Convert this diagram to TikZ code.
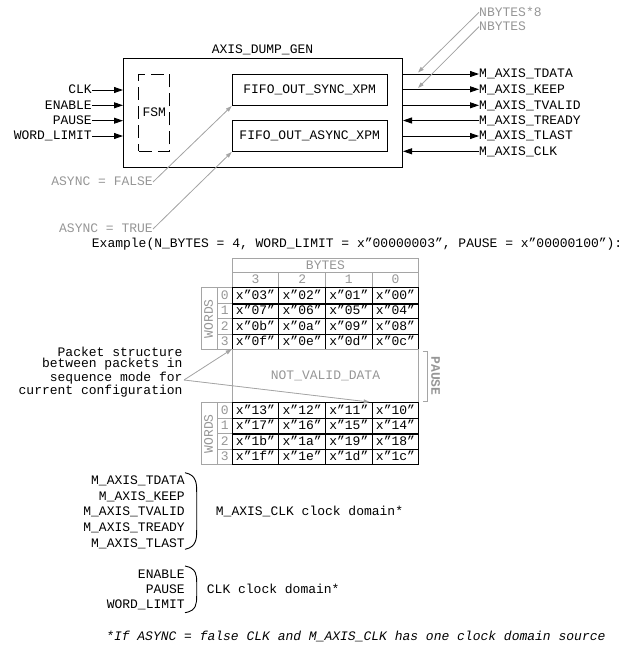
\documentclass[tikz,border=0pt]{standalone}
\usepackage{fontspec}
\setmainfont{Liberation Mono}
\setmonofont{Liberation Mono}
\usetikzlibrary{arrows.meta}
\definecolor{gtxt}{RGB}{150,150,150}
\definecolor{gline}{RGB}{165,165,165}
\begin{document}
\begin{tikzpicture}[x=1pt,y=-1pt,
  lbl/.style={font=\fontsize{13}{15}\selectfont, inner sep=0pt, text height=7.4pt, text depth=0pt},
  glbl/.style={lbl, text=gtxt},
  arr/.style={-{Triangle[length=9pt,width=6pt]}, line width=0.9pt},
  garr/.style={-{Triangle[length=6pt,width=4pt]}, draw=gline, fill=gline, line width=0.8pt},
  blk/.style={draw, line width=1pt, inner sep=0pt, lbl},
  cell/.style={draw, line width=0.9pt, lbl, minimum width=46.67pt, minimum height=15.5pt, anchor=north west},
  gcell/.style={draw=gline, line width=0.9pt, glbl, minimum width=46.67pt, minimum height=15.5pt, anchor=north west},
  brk/.style={line width=0.9pt}
]
\useasboundingbox (0,0) rectangle (630,649);

% ---------- block diagram ----------
\node[blk, minimum width=279pt, minimum height=109pt, anchor=north west] (main) at (123,58) {};
\node[lbl] (title) at (262.5,50) {AXIS\_DUMP\_GEN};
\node[draw, line width=0.9pt, dash pattern=on 13pt off 6pt, lbl, minimum width=31pt, minimum height=77pt, anchor=north west] (fsm) at (138.3,74) {FSM};
\node[blk, minimum width=155pt, minimum height=31pt, anchor=north west] (sync) at (231.7,74) {FIFO\_OUT\_SYNC\_XPM};
\node[blk, minimum width=155pt, minimum height=31pt, anchor=north west] (async) at (231.7,120) {FIFO\_OUT\_ASYNC\_XPM};

% inputs
\node[lbl, anchor=east] (iclk) at (92,90) {CLK};
\node[lbl, anchor=east] (ien) at (92,105.3) {ENABLE};
\node[lbl, anchor=east] (ipa) at (92,120.7) {PAUSE};
\node[lbl, anchor=east] (iwl) at (92,136) {WORD\_LIMIT};
\foreach \n in {iclk,ien,ipa,iwl}
  \draw[arr] (\n.east) -- (main.west |- \n.east);

% outputs
\node[lbl, anchor=west] (otd) at (479,74) {M\_AXIS\_TDATA};
\node[lbl, anchor=west] (oke) at (479,89.3) {M\_AXIS\_KEEP};
\node[lbl, anchor=west] (otv) at (479,105.3) {M\_AXIS\_TVALID};
\node[lbl, anchor=west] (otr) at (479,120.5) {M\_AXIS\_TREADY};
\node[lbl, anchor=west] (otl) at (479,136) {M\_AXIS\_TLAST};
\node[lbl, anchor=west] (ock) at (479,151.3) {M\_AXIS\_CLK};
\foreach \n in {otd,oke,otv,otl}
  \draw[arr] (main.east |- \n.west) -- (\n.west);
\foreach \n in {otr,ock}
  \draw[arr] (\n.west) -- (main.east |- \n.west);

% NBYTES annotations
\node[glbl, anchor=west] (nb8) at (479,12.3) {NBYTES*8};
\node[glbl, anchor=west] (nb) at (479,26.7) {NBYTES};
\coordinate (tipa) at (418,72.5);
\coordinate (tipb) at (418,88);
\draw[garr] (nb8.west) -- (tipa);
\draw[garr] (nb.west) -- (tipb);

% ASYNC annotations
\node[glbl, anchor=east] (af) at (153,182) {ASYNC = FALSE};
\node[glbl, anchor=east] (at) at (153,229) {ASYNC = TRUE};
\draw[garr] (af.east) -- (sync.south west);
\draw[garr] (at.east) -- (async.south west);

% ---------- example ----------
\node[lbl, anchor=west] (ex) at (91.7,244) {Example(N\_BYTES = 4, WORD\_LIMIT = x”00000003", PAUSE = x”00000100”):};

% table 1 header
\node[gcell, minimum width=186.67pt, minimum height=13.7pt] (bytes) at (231.7,258.3) {BYTES};
\foreach \c/\v in {0/3,1/2,2/1,3/0}
  \node[gcell, minimum height=15.3pt] (bh\c) at ({231.7+46.67*\c},272) {\v};

% table 1 words column
\node[draw=gline, line width=0.9pt, minimum width=16pt, minimum height=62pt, inner sep=0pt, anchor=north west] (wa) at (200.7,287.3) {};
\node[glbl, rotate=90] (wat) at (wa.center) {WORDS};

\foreach \r in {0,1,2,3} {
  \node[gcell, minimum width=15pt] (ai\r) at (216.7,{287.3+15.5*\r}) {\r};
}
\foreach \r/\a/\b/\c/\d in {0/03/02/01/00,1/07/06/05/04,2/0b/0a/09/08,3/0f/0e/0d/0c} {
  \node[cell] (a\r c0) at (231.7,{287.3+15.5*\r}) {x”\a”};
  \node[cell] (a\r c1) at (278.37,{287.3+15.5*\r}) {x”\b”};
  \node[cell] (a\r c2) at (325.03,{287.3+15.5*\r}) {x”\c”};
  \node[cell] (a\r c3) at (371.7,{287.3+15.5*\r}) {x”\d”};
}
\draw[line width=1.8pt] (a0c0.south west) -- (a0c3.south east);

% not valid data
\node[draw=gline, line width=0.9pt, glbl, minimum width=186.67pt, minimum height=53pt, anchor=north west] (nvd) at (231.7,349.3) {NOT\_VALID\_DATA};
\draw[draw=gline, line width=0.9pt] ([xshift=3.5pt,yshift=-2.4pt]nvd.north east) -- ++(5,0) coordinate (pb1) -- ([xshift=8.5pt,yshift=1.3pt]nvd.south east) -- ++(-5,0);
\node[glbl, rotate=-90, font=\fontsize{13}{15}\selectfont\bfseries] (pause) at (435,376) {PAUSE};

% table 2
\node[draw=gline, line width=0.9pt, minimum width=16pt, minimum height=62pt, inner sep=0pt, anchor=north west] (wb) at (200.7,402.3) {};
\node[glbl, rotate=90] (wbt) at (wb.center) {WORDS};
\foreach \r in {0,1,2,3} {
  \node[gcell, minimum width=15pt] (bi\r) at (216.7,{402.3+15.5*\r}) {\r};
}
\foreach \r/\a/\b/\c/\d in {0/13/12/11/10,1/17/16/15/14,2/1b/1a/19/18,3/1f/1e/1d/1c} {
  \node[cell] (b\r c0) at (231.7,{402.3+15.5*\r}) {x”\a”};
  \node[cell] (b\r c1) at (278.37,{402.3+15.5*\r}) {x”\b”};
  \node[cell] (b\r c2) at (325.03,{402.3+15.5*\r}) {x”\c”};
  \node[cell] (b\r c3) at (371.7,{402.3+15.5*\r}) {x”\d”};
}
\draw[line width=1.8pt] (b1c0.south west) -- (b1c3.south east);

% packet structure note
\node[font=\fontsize{13}{11.3}\selectfont, align=right, inner sep=0pt, anchor=east] (pk) at (182.7,372) {Packet structure\\between packets in\\sequence mode for\\current configuration};
\coordinate (pko) at (184,380);
\draw[garr] (pko) -- (nvd.north west);
\draw[garr, shorten >=2pt] (pko) -- (b0c3.north west);

% ---------- clock domains ----------
\node[lbl, anchor=east] (d1) at (185,481) {M\_AXIS\_TDATA};
\node[lbl, anchor=east] (d2) at (185,496.6) {M\_AXIS\_KEEP};
\node[lbl, anchor=east] (d3) at (185,512.2) {M\_AXIS\_TVALID};
\node[lbl, anchor=east] (d4) at (185,527.8) {M\_AXIS\_TREADY};
\node[lbl, anchor=east] (d5) at (185,543.4) {M\_AXIS\_TLAST};
\draw[brk] (185,472.7) .. controls (196.7,475) and (196.7,484) .. (196.7,492) -- (196.7,530) .. controls (196.7,538) and (196.7,547) .. (185,549.3);
\node[lbl, anchor=west] (dm) at (215.7,512.2) {M\_AXIS\_CLK clock domain*};

\node[lbl, anchor=east] (e1) at (185,574.3) {ENABLE};
\node[lbl, anchor=east] (e2) at (185,589.3) {PAUSE};
\node[lbl, anchor=east] (e3) at (185,604.7) {WORD\_LIMIT};
\draw[brk] (185,566) .. controls (196.7,568) and (196.7,576) .. (196.7,582) -- (196.7,596) .. controls (196.7,603) and (196.7,611) .. (185,612.7);
\node[lbl, anchor=west] (dc) at (206.7,589.3) {CLK clock domain*};

\node[lbl, anchor=west, font=\fontsize{13}{15}\selectfont\itshape] (fn) at (106,636.7) {*If ASYNC = false CLK and M\_AXIS\_CLK has one clock domain source};
\end{tikzpicture}
\end{document}
